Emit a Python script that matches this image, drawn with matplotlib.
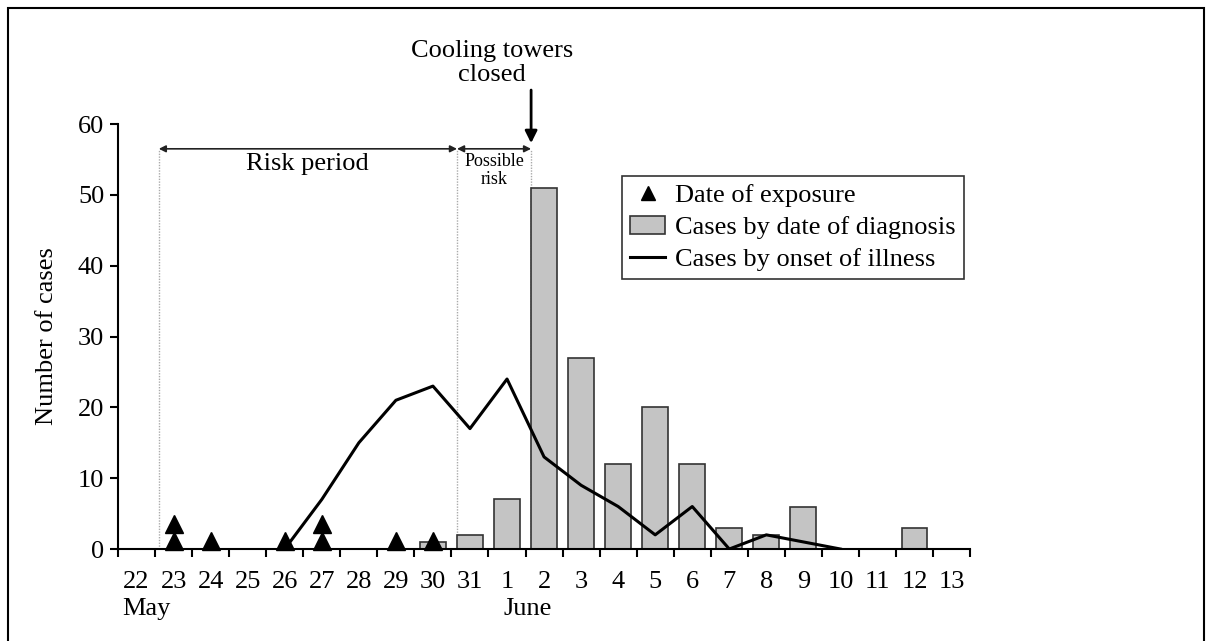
import matplotlib
matplotlib.use("Agg")
import matplotlib.pyplot as plt
from matplotlib.patches import Rectangle
import numpy as np

plt.rcParams['font.family'] = ['Liberation Serif', 'DejaVu Serif']

# day labels: 22 May .. 13 June
day_labels = ['22', '23', '24', '25', '26', '27', '28', '29', '30', '31',
              '1', '2', '3', '4', '5', '6', '7', '8', '9', '10', '11', '12', '13']

# cases by date of diagnosis (day label -> count)
diag_days = ['30', '31', '1', '2', '3', '4', '5', '6', '7', '8', '9', '12']
diag_cases = [1, 2, 7, 51, 27, 12, 20, 12, 3, 2, 6, 3]

# cases by onset of illness
onset_days = ['26', '27', '28', '29', '30', '31', '1', '2', '3', '4', '5', '6', '7', '8', '9', '10']
onset_cases = [0, 7, 15, 21, 23, 17, 24, 13, 9, 6, 2, 6, 0, 2, 1, 0]

# dates of exposure (stacked markers)
exp_days = ['23', '23', '24', '26', '27', '27', '29', '30']
exp_level = [1.2, 3.6, 1.2, 1.2, 1.2, 3.6, 1.2, 1.2]

pos = {d: i for i, d in enumerate(day_labels)}
FS = 19

fig = plt.figure(figsize=(12.12, 6.41), dpi=100)
ax = fig.add_axes([0.0974, 0.1435, 0.703, 0.6630])

bars = ax.bar([pos[d] for d in diag_days], diag_cases, width=0.7, color='#c4c4c4',
              edgecolor='#333333', linewidth=1.2, zorder=2)
line, = ax.plot([pos[d] for d in onset_days], onset_cases, color='black', lw=2.2, zorder=3)
tri, = ax.plot([pos[d] for d in exp_days], exp_level, linestyle='none', marker='^',
               color='black', markersize=13, zorder=4, clip_on=False)

ax.set_xlim(-0.5, 22.5)
ax.set_ylim(0, 60)
ax.set_yticks(np.arange(0, 61, 10))
ax.set_xticks(np.arange(len(day_labels)))
ax.set_xticklabels(day_labels)
ax.set_xticks(np.arange(-0.5, 22.6, 1), minor=True)
ax.tick_params(axis='x', which='major', length=0, labelsize=FS, pad=16)
ax.tick_params(axis='x', which='minor', length=6, width=1.5, direction='out')
ax.tick_params(axis='y', labelsize=FS, length=6, width=1.5, direction='out', pad=4)
for s in ['top', 'right']:
    ax.spines[s].set_visible(False)
for s in ['left', 'bottom']:
    ax.spines[s].set_linewidth(1.5)
ax.set_ylabel('Number of cases', fontsize=FS, labelpad=14)

ax.text(-0.4, -0.115, 'May', transform=ax.get_xaxis_transform(), fontsize=FS, va='top')
ax.text(9.9, -0.115, 'June', transform=ax.get_xaxis_transform(), fontsize=FS, va='top')

# risk period markers
x_start, x_possible, x_closed = 0.6, 8.65, 10.65
for xv in [x_start, x_possible, x_closed]:
    ax.plot([xv, xv], [0, 56.5], color='#aaaaaa', lw=1, linestyle=(0, (1, 1)), zorder=1)
for a, b in [(x_start, x_possible), (x_possible, x_closed)]:
    ax.annotate('', xy=(a, 56.5), xytext=(b, 56.5),
                arrowprops=dict(arrowstyle='<|-|>', color='#222222', lw=1.2, mutation_scale=10,
                                shrinkA=0, shrinkB=0))
ax.text(4.6, 54.4, 'Risk period', ha='center', va='center', fontsize=FS)
ax.text(9.65, 53.4, 'Possible\nrisk', ha='center', va='center', fontsize=13, linespacing=1.05)

ax.annotate('', xy=(x_closed, 57.3), xytext=(x_closed, 64.8), annotation_clip=False,
            arrowprops=dict(arrowstyle='-|>', color='black', lw=2, mutation_scale=18,
                            shrinkA=0, shrinkB=0))
ax.text(9.6, 68.6, 'Cooling towers\nclosed', ha='center', va='center', fontsize=FS,
        linespacing=1.1, clip_on=False)

leg = ax.legend([tri, bars, line],
                ['Date of exposure', 'Cases by date of diagnosis', 'Cases by onset of illness'],
                loc='upper left', bbox_to_anchor=(0.592, 0.878), fontsize=FS, frameon=True,
                fancybox=False, edgecolor='black', handlelength=1.3, handletextpad=0.4,
                borderpad=0.3, labelspacing=0.32, borderaxespad=0)
leg.get_frame().set_linewidth(1.2)
leg.legend_handles[0].set_markersize(10)

fig.patches.append(Rectangle((0.007, -0.05), 0.986, 1.037, transform=fig.transFigure,
                             fill=False, edgecolor='black', lw=1.5))

fig.savefig('out.png', dpi=100)
